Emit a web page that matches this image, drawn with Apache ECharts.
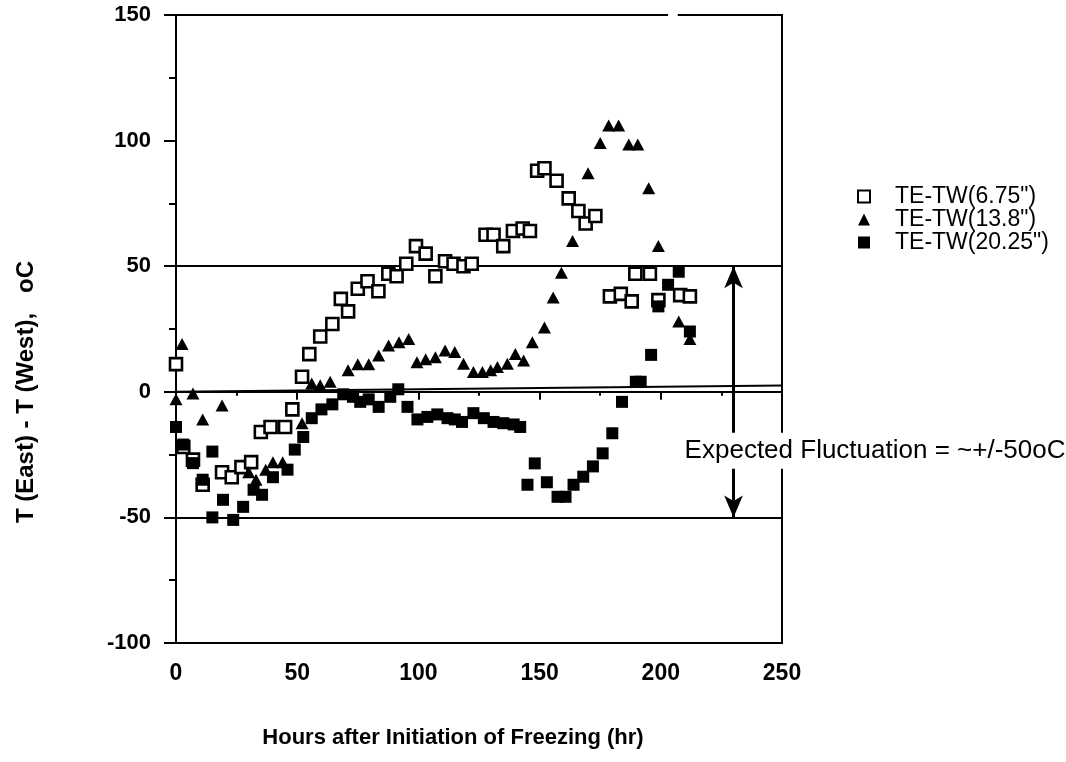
<!DOCTYPE html>
<html>
<head>
<meta charset="utf-8">
<script src="https://cdn.jsdelivr.net/npm/echarts@6/dist/echarts.min.js"></script>
<style>
  html, body { margin: 0; padding: 0; background: #fff; }
  #chart { width: 1066px; height: 762px; }
</style>
</head>
<body>
<div id="chart"></div>
<script>
// TE-TW(6.75") - open squares
const hours675 = [0, 3, 7, 11, 19, 23, 27, 31, 35, 39, 45, 48, 52, 55, 59.5, 64.5, 68, 71, 75, 79, 83.5, 87.6, 91, 95, 99, 103, 107, 111, 114.5, 118.6, 122, 127.7, 131, 135, 139, 143, 146, 149, 152, 157, 162, 166, 169, 173, 179, 183.5, 188, 189.5, 195.5, 199, 208, 212]
const diff675 = [11, -22, -27, -37, -32, -34, -30, -28, -16, -14, -14, -7, 6, 15, 22, 27, 37, 32, 41, 44, 40, 47, 46, 51, 58, 55, 46, 52, 51, 50, 51, 62.5, 62.5, 58, 64, 65, 64, 88, 89, 84, 77, 72, 67, 70, 38, 39, 36, 47, 47, 36.5, 38.5, 38]

// TE-TW(13.8") - filled triangles
const hours138 = [0, 2.5, 7, 11, 19, 30, 33, 37, 40, 44, 52, 56, 59.5, 63.6, 71, 75, 79.5, 83.6, 87.7, 92, 96, 99.4, 103, 107, 111, 115, 118.6, 122.7, 126.4, 129.8, 132.6, 136.7, 140, 143.4, 147, 152, 155.6, 159, 163.6, 170, 175, 178.5, 182.6, 186.8, 190.5, 195, 199, 207.4, 212]
const diff138 = [-3, 19, -0.7, -11, -5.5, -32, -35, -31, -28, -28, -12.5, 3.3, 2.6, 4, 8.6, 11, 11, 14.5, 18.4, 19.7, 21, 11.8, 13, 13.8, 16.4, 15.8, 11.2, 7.9, 7.9, 8.6, 9.9, 11.2, 15, 12.5, 19.7, 25.6, 37.5, 47.4, 60, 87, 99, 106, 106, 98.4, 98.4, 81, 58, 28, 21]

// TE-TW(20.25") - filled squares
const hours2025 = [0, 3, 7, 11, 15, 15, 19.4, 23.6, 27.7, 32, 35.5, 40, 46, 49, 52.5, 56, 60, 64.5, 69, 73, 76, 79.5, 83.6, 88.4, 91.7, 95.5, 99.6, 103.7, 107.8, 112, 115, 118, 122.7, 127, 131, 135, 139.3, 142, 145, 148, 153, 157.4, 160.7, 164, 168, 172, 176, 180, 184, 189.7, 191.7, 196, 199, 203, 207.4, 212]
const diff2025 = [-14, -21, -28.4, -35, -23.8, -50, -43, -51, -45.8, -39, -41, -34, -31, -23, -18, -10.5, -7, -5, -1, -2, -4, -3, -6, -2, 1, -6, -11, -10, -9, -10.5, -11, -12, -8.5, -10.5, -12, -12.5, -13, -14, -37, -28.5, -36, -41.8, -41.8, -37, -33.8, -29.7, -24.5, -16.5, -4, 4, 4, 14.7, 34, 42.6, 47.8, 24]

// hand-drawn reference lines (level at start / at end)
const refStart = [50, 0, -50]
const refEnd = [50, 2.5, -50]

// arrow for expected fluctuation
const arrowHour = 230
const arrowTop = 50
const arrowBottom = -50
const noteText = 'Expected Fluctuation = ~+/-50oC'
const notePos = [209, -23.5]

// small break in the top frame line (hours)
const frameGap = [203, 207]

const seriesNames = ['TE-TW(6.75")', 'TE-TW(13.8")', 'TE-TW(20.25")']

const zip = (xs, ys) => xs.map((x, i) => [x, ys[i]])

const font = '"Liberation Sans", Arial, sans-serif'

const chart = echarts.init(document.getElementById('chart'))

chart.setOption({
  backgroundColor: '#fff',
  animation: false,
  grid: {
    left: 176,
    right: 284,
    top: 15,
    bottom: 119,
    show: true,
    borderColor: '#000',
    borderWidth: 2,
    backgroundColor: 'transparent'
  },
  legend: {
    orient: 'vertical',
    left: 852,
    top: 180,
    itemGap: 0,
    itemWidth: 12,
    itemHeight: 12,
    data: seriesNames,
    textStyle: {fontFamily: font, fontSize: 23, lineHeight: 20, color: '#000', padding: [0, 0, 0, 20]}
  },
  xAxis: {
    type: 'value',
    min: 0,
    max: 250,
    interval: 50,
    name: 'Hours after Initiation of Freezing (hr)',
    nameLocation: 'middle',
    nameGap: 84,
    nameTextStyle: {fontFamily: font, fontSize: 22, fontWeight: 'bold', color: '#000', padding: [0, 52, 0, 0]},
    axisLine: {show: true, lineStyle: {color: '#000', width: 2}},
    axisTick: {show: true, inside: false, length: 8, lineStyle: {color: '#000', width: 2}},
    minorTick: {show: true, splitNumber: 2, length: 4, lineStyle: {color: '#000', width: 2}},
    splitLine: {show: false},
    axisLabel: {
      margin: 19,
      fontFamily: font,
      fontSize: 23,
      fontWeight: 'bold',
      color: '#000'
    }
  },
  yAxis: {
    type: 'value',
    min: -100,
    max: 150,
    interval: 50,
    name: 'T (East) - T (West),   oC',
    nameLocation: 'middle',
    nameGap: 138,
    nameRotate: 90,
    nameTextStyle: {fontFamily: font, fontSize: 24, fontWeight: 'bold', color: '#000', padding: [0, 126, 0, 0]},
    axisLine: {show: true, lineStyle: {color: '#000', width: 2}},
    axisTick: {show: true, inside: false, length: 12, lineStyle: {color: '#000', width: 2}},
    minorTick: {show: true, splitNumber: 2, length: 7, lineStyle: {color: '#000', width: 2}},
    splitLine: {show: false},
    axisLabel: {
      margin: 25,
      fontFamily: font,
      fontSize: 22,
      fontWeight: 'bold',
      color: '#000'
    }
  },
  series: [
    {
      name: seriesNames[0],
      type: 'scatter',
      symbol: 'rect',
      symbolSize: 12,
      z: 5,
      itemStyle: {color: '#fff', borderColor: '#000', borderWidth: 2.6, opacity: 1},
      data: zip(hours675, diff675),
      markLine: {
        silent: true,
        symbol: 'none',
        label: {show: false},
        lineStyle: {color: '#000', width: 2, type: 'solid'},
        data: refStart.map((v, i) => [{coord: [0, v]}, {coord: [250, refEnd[i]]}])
      }
    },
    {
      name: seriesNames[1],
      type: 'scatter',
      symbol: 'triangle',
      symbolSize: [13, 12],
      z: 5,
      itemStyle: {color: '#000', opacity: 1},
      data: zip(hours138, diff138),
      markLine: {
        silent: true,
        symbol: ['arrow', 'arrow'],
        symbolSize: [14, 22],
        label: {show: false},
        lineStyle: {color: '#000', width: 3, type: 'solid'},
        data: [[{coord: [arrowHour, arrowTop]}, {coord: [arrowHour, arrowBottom]}]]
      }
    },
    {
      name: seriesNames[2],
      type: 'scatter',
      symbol: 'rect',
      symbolSize: 12,
      z: 5,
      itemStyle: {color: '#000', opacity: 1},
      data: zip(hours2025, diff2025)
    }
  ]
})

// annotation text and frame break, placed on the data scale
const p = chart.convertToPixel({gridIndex: 0}, notePos)
const g0 = chart.convertToPixel({gridIndex: 0}, [frameGap[0], 150])
const g1 = chart.convertToPixel({gridIndex: 0}, [frameGap[1], 150])
chart.setOption({
  graphic: [
    {
      type: 'text',
      x: p[0],
      y: p[1],
      z: 100,
      style: {
        text: noteText,
        fontFamily: font,
        fontSize: 26,
        fill: '#000',
        backgroundColor: '#fff',
        padding: [5, 2, 5, 2],
        textAlign: 'left',
        textVerticalAlign: 'middle'
      }
    },
    {
      type: 'line',
      z: 100,
      shape: {x1: g0[0], y1: g0[1], x2: g1[0], y2: g1[1]},
      style: {stroke: '#fff', lineWidth: 4}
    }
  ]
})
</script>
</body>
</html>
